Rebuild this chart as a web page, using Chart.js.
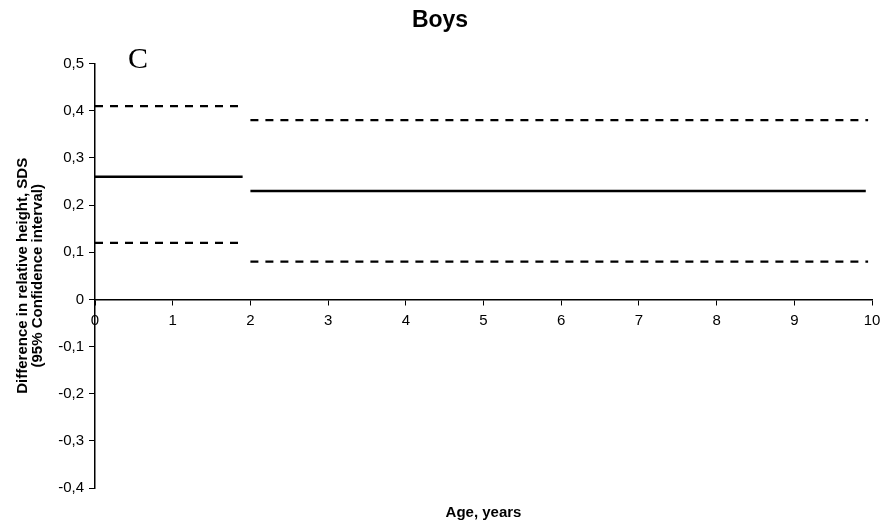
<!DOCTYPE html>
<html>
<head>
<meta charset="utf-8">
<script src="https://cdn.jsdelivr.net/npm/chart.js@4/dist/chart.umd.min.js"></script>
<style>
  html, body { margin: 0; padding: 0; background: #fff; }
  canvas { display: block; }
</style>
</head>
<body>
<canvas id="chart" width="880" height="525"></canvas>
<script>
// Age segments (years)
const segStart = [0, 2];
const meanEnd = [1.9, 9.92];
const ciEnd = [1.85, 9.95];

// Difference in relative height, SDS
const meanDiff = [0.26, 0.23];
const lowerCI = [0.12, 0.08];
const upperCI = [0.41, 0.38];

// Axis ticks
const xTicks = [0, 1, 2, 3, 4, 5, 6, 7, 8, 9, 10];
const yTicks = [-0.4, -0.3, -0.2, -0.1, 0, 0.1, 0.2, 0.3, 0.4, 0.5];

const panelLetter = 'C';

// Format tick with comma decimal
function commaFmt(v) {
  if (Math.abs(v) < 1e-9) return '0';
  return v.toFixed(1).replace('.', ',');
}

// Build one horizontal segment dataset
function segment(x0, x1, y, dashed) {
  return {
    data: [{ x: x0, y: y }, { x: x1, y: y }],
    borderColor: '#000',
    borderWidth: dashed ? 2.2 : 2.5,
    borderDash: dashed ? [8, 7] : [],
    pointRadius: 0,
    fill: false
  };
}

const datasets = [];
for (let i = 0; i < segStart.length; i++) {
  datasets.push(segment(segStart[i], ciEnd[i], upperCI[i], true));
  datasets.push(segment(segStart[i], meanEnd[i], meanDiff[i], false));
  datasets.push(segment(segStart[i], ciEnd[i], lowerCI[i], true));
}

// Panel letter drawn inside the plot
const letterPlugin = {
  id: 'panelLetter',
  afterDraw(chart) {
    const ctx = chart.ctx;
    const area = chart.chartArea;
    ctx.save();
    ctx.font = '30px "Liberation Serif", "DejaVu Serif", serif';
    ctx.fillStyle = '#000';
    ctx.textBaseline = 'alphabetic';
    ctx.fillText(panelLetter, area.left + 33, area.top + 4);
    ctx.restore();
  }
};

new Chart(document.getElementById('chart'), {
  type: 'line',
  data: { datasets: datasets },
  plugins: [letterPlugin],
  options: {
    responsive: false,
    animation: false,
    devicePixelRatio: 1,
    layout: { padding: 0 },
    plugins: {
      legend: { display: false },
      tooltip: { enabled: false },
      title: {
        display: true,
        text: 'Boys',
        color: '#000',
        font: { family: '"Liberation Sans", Arial, sans-serif', size: 23, weight: 'bold' },
        padding: { top: 7, bottom: 29 }
      },
      subtitle: {
        display: true,
        position: 'bottom',
        fullSize: false,
        text: 'Age, years',
        color: '#000',
        font: { family: '"Liberation Sans", Arial, sans-serif', size: 15, weight: 'bold' },
        padding: { top: 16, bottom: 3 }
      }
    },
    scales: {
      x: {
        type: 'linear',
        position: { y: 0 },
        min: 0,
        max: 10,
        afterBuildTicks(scale) {
          scale.ticks = xTicks.map(v => ({ value: v }));
        },
        afterFit(scale) {
          scale.paddingRight = 8;
          scale.paddingLeft = 0;
        },
        ticks: {
          color: '#000',
          autoSkip: false,
          maxRotation: 0,
          padding: 7,
          font: { family: '"Liberation Sans", Arial, sans-serif', size: 15 }
        },
        grid: { drawOnChartArea: false, drawTicks: true, tickLength: 5, color: '#000', lineWidth: 1 },
        border: { display: true, color: '#000', width: 1.5 }
      },
      y: {
        type: 'linear',
        min: -0.4,
        max: 0.5,
        afterBuildTicks(scale) {
          scale.ticks = yTicks.map(v => ({ value: v }));
        },
        afterFit(scale) {
          scale.width = 95;
        },
        ticks: {
          color: '#000',
          padding: 5,
          callback: v => commaFmt(v),
          font: { family: '"Liberation Sans", Arial, sans-serif', size: 15 }
        },
        title: {
          display: true,
          text: ['Difference in relative height, SDS', '(95% Confidence interval)'],
          color: '#000',
          font: { family: '"Liberation Sans", Arial, sans-serif', size: 15, weight: 'bold', lineHeight: 1.0 },
          padding: { top: 15, bottom: 0 }
        },
        grid: { drawOnChartArea: false, drawTicks: true, tickLength: 6, color: '#000', lineWidth: 1 },
        border: { display: true, color: '#000', width: 1.5 }
      }
    }
  }
});
</script>
</body>
</html>
